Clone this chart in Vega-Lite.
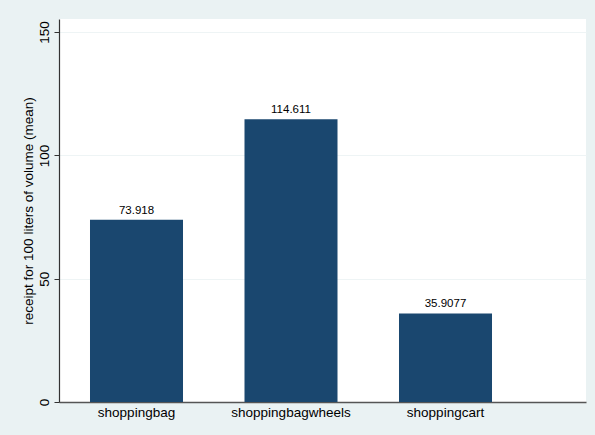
{
  "$schema": "https://vega.github.io/schema/vega-lite/v6.json",
  "width": 527,
  "height": 383,
  "autosize": {"type": "none"},
  "padding": {"left": 59, "top": 19, "right": 9, "bottom": 33},
  "background": "#EAF2F3",
  "config": {
    "view": {"fill": "white", "stroke": null},
    "font": "Liberation Sans"
  },
  "data": {
    "values": [
      {"item": "shoppingbag", "value": 73.918},
      {"item": "shoppingbagwheels", "value": 114.611},
      {"item": "shoppingcart", "value": 35.9077}
    ]
  },
  "encoding": {
    "x": {
      "field": "item",
      "type": "nominal",
      "sort": null,
      "scale": {"paddingInner": 0.398, "paddingOuter": 0.4045, "align": 0.248},
      "axis": {
        "title": null,
        "labelAngle": 0,
        "ticks": false,
        "labelPadding": 3,
        "labelFontSize": 13.5,
        "labelColor": "#000000",
        "domainColor": "#555555",
        "domainWidth": 1.5
      }
    },
    "y": {
      "field": "value",
      "type": "quantitative",
      "scale": {"domain": [0, 155.3], "nice": false, "zero": true},
      "axis": {
        "title": "receipt for 100 liters of volume (mean)",
        "titleFontSize": 13.5,
        "titleFontWeight": "normal",
        "titleColor": "#000000",
        "titlePadding": 2,
        "values": [0, 50, 100, 150],
        "labelAngle": 270,
        "labelAlign": "center",
        "labelBaseline": "bottom",
        "labelFontSize": 13.5,
        "labelColor": "#000000",
        "labelPadding": 3,
        "tickSize": 5,
        "tickColor": "#333333",
        "domainColor": "#333333",
        "domainWidth": 1.2,
        "grid": true,
        "gridColor": "#EEF4F5",
        "gridWidth": 1
      }
    }
  },
  "layer": [
    {"mark": {"type": "bar", "color": "#1A476F"}},
    {
      "mark": {"type": "text", "baseline": "bottom", "dy": -4, "fontSize": 11.5, "color": "#000000"},
      "encoding": {"text": {"field": "value", "type": "nominal"}}
    }
  ]
}
